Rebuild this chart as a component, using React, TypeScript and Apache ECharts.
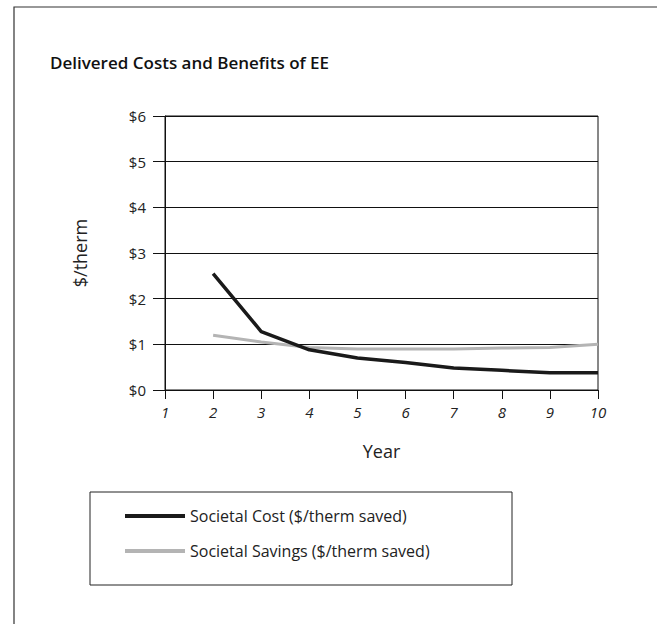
import React, { useEffect, useRef } from "react";
import * as echarts from "echarts";

const years = [2, 3, 4, 5, 6, 7, 8, 9, 10];
const societalCost = [2.55, 1.28, 0.88, 0.7, 0.6, 0.48, 0.43, 0.38, 0.38];
const societalSavings = [1.2, 1.05, 0.93, 0.9, 0.9, 0.9, 0.92, 0.93, 1.0];
const seriesNames = ["Societal Cost ($/therm saved)", "Societal Savings ($/therm saved)"];
const title = "Delivered Costs and Benefits of EE";

const FONT = "'Open Sans', 'DejaVu Sans', sans-serif";
const COST_COLOR = "#1a1a1a";
const SAVINGS_COLOR = "#b4b4b4";

export default function App() {
  const ref = useRef<HTMLDivElement>(null);
  useEffect(() => {
    if (!ref.current) return;
    const chart = echarts.init(ref.current, null, { renderer: "svg" });
    chart.setOption({
      animation: false,
      backgroundColor: "#fff",
      textStyle: { fontFamily: FONT },
      title: {
        text: title,
        left: 45,
        top: 49,
        textStyle: { fontSize: 17, fontWeight: 600, color: "#111", fontFamily: FONT },
      },
      grid: {
        left: 165,
        right: 59,
        top: 116,
        bottom: 234,
        show: true,
        borderColor: "#111",
        borderWidth: 1,
      },
      xAxis: {
        type: "value",
        min: 1,
        max: 10,
        interval: 1,
        name: "Year",
        nameLocation: "middle",
        nameGap: 52,
        nameTextStyle: { fontSize: 18, color: "#222", fontFamily: FONT },
        axisLine: { lineStyle: { color: "#111", width: 1 } },
        axisTick: { show: true, inside: false, length: 9, lineStyle: { color: "#111" } },
        axisLabel: { fontSize: 15, fontStyle: "italic", color: "#222", margin: 14, fontFamily: FONT },
        splitLine: { show: false },
      },
      yAxis: {
        type: "value",
        min: 0,
        max: 6,
        interval: 1,
        name: "$/therm",
        nameLocation: "middle",
        nameGap: 76,
        nameTextStyle: { fontSize: 18, color: "#222", fontFamily: FONT },
        axisLine: { show: true, lineStyle: { color: "#111", width: 1 } },
        axisTick: { show: true, inside: false, length: 12, lineStyle: { color: "#111" } },
        axisLabel: {
          fontSize: 15,
          color: "#222",
          margin: 19,
          fontFamily: FONT,
          formatter: (v: number) => "$" + v,
        },
        splitLine: { show: true, lineStyle: { color: "#111", width: 1 } },
      },
      legend: {
        orient: "vertical",
        left: 120,
        top: 503,
        itemWidth: 60,
        itemHeight: 4,
        itemGap: 19,
        textStyle: { fontSize: 16, color: "#222", fontFamily: FONT },
        data: [
          { name: seriesNames[0], icon: "rect", itemStyle: { color: COST_COLOR } },
          { name: seriesNames[1], icon: "rect", itemStyle: { color: SAVINGS_COLOR } },
        ],
      },
      graphic: [
        {
          type: "rect",
          shape: { x: 90, y: 492, width: 422, height: 93 },
          style: { fill: "none", stroke: "#222", lineWidth: 1 },
          silent: true,
        },
        {
          type: "polyline",
          shape: { points: [[14, 624], [14, 7], [657, 7]] },
          style: { fill: "none", stroke: "#333", lineWidth: 1.2 },
          silent: true,
        },
      ],
      series: [
        {
          name: seriesNames[0],
          type: "line",
          data: years.map((y, i) => [y, societalCost[i]]),
          symbol: "none",
          lineStyle: { color: COST_COLOR, width: 3.5 },
          itemStyle: { color: COST_COLOR },
          z: 3,
        },
        {
          name: seriesNames[1],
          type: "line",
          data: years.map((y, i) => [y, societalSavings[i]]),
          symbol: "none",
          lineStyle: { color: SAVINGS_COLOR, width: 3 },
          itemStyle: { color: SAVINGS_COLOR },
          z: 2,
        },
      ],
    });
    return () => chart.dispose();
  }, []);
  return <div ref={ref} style={{ width: 657, height: 624, position: "absolute", left: 0, top: 0 }} />;
}
